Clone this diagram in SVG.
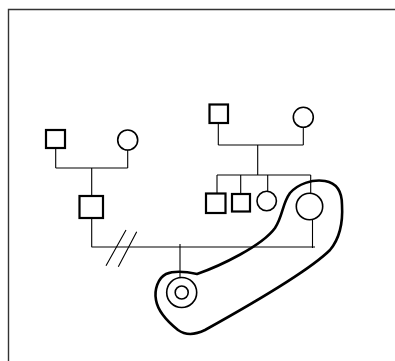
<svg xmlns="http://www.w3.org/2000/svg" width="395" height="361" viewBox="0 0 395 361">
<style>
.sq{fill:none;stroke:#000;stroke-width:2.2}
.ci{fill:none;stroke:#000;stroke-width:1.6}
.ln{fill:none;stroke:#000;stroke-width:1.1}
.lasso{fill:none;stroke:#000;stroke-width:2.6;stroke-linejoin:round}
</style>
<rect width="395" height="361" fill="#fff"/>
<path d="M8.5,361 V9.5 H395" fill="none" stroke="#333" stroke-width="1.4"/>
<g id="connectors">
<path class="ln" d="M55.7,148 V168 M127.7,150 V168 M55.7,168 H127.7 M91.7,168 V196 M91.7,218 V247 M91.5,247 H315"/>
<path class="ln" d="M218.3,123 V145 M303.3,127 V145 M218.3,145 H303.3 M257.7,145 V175 M217,175 H310.7 M217,175 V193.5 M240.7,175 V194 M267.7,175 V191.5 M310.7,175 V193.5 M312.5,219.5 V248"/>
<path class="ln" d="M180,244 V277.5"/>
<path class="ln" d="M126,230 L106,265.7 M136.7,231.7 L118.3,266.7"/>
</g>
<g id="n1"><rect class="sq" x="46" y="130" width="19" height="18"/></g>
<g id="n2"><circle class="ci" cx="127.7" cy="140" r="10"/></g>
<g id="n3"><rect class="sq" x="79.5" y="196" width="23.5" height="22"/></g>
<g id="n4"><rect class="sq" x="209.5" y="104.5" width="18.5" height="18.5"/></g>
<g id="n5"><circle class="ci" cx="303.3" cy="117.3" r="10"/></g>
<g id="n6"><rect class="sq" x="206" y="193.5" width="19.5" height="19.5"/></g>
<g id="n7"><rect class="sq" x="232" y="194" width="18" height="17.5"/></g>
<g id="n8"><circle class="ci" cx="266.7" cy="201" r="9.7"/></g>
<g id="n9"><circle class="ci" cx="309.5" cy="206.5" r="13.2"/></g>
<g id="n10"><circle class="ci" cx="181.7" cy="292.5" r="15"/><circle class="ci" cx="181.7" cy="292.5" r="6.5"/></g>
<g id="lasso">
<path class="lasso" d="M197,274 C220,266 262,246 275,228 C283,216 282,204 290,193 C298,184 312,179 325,181 C337,183 342,192 342,205 C343,222 340,238 330,250 C310,270 250,305 205,330 C195,335 185,335 178,330 C168,322 158,312 156,300 C154,290 158,278 166,274 C175,270 188,272 197,274 Z"/>
</g>
</svg>
